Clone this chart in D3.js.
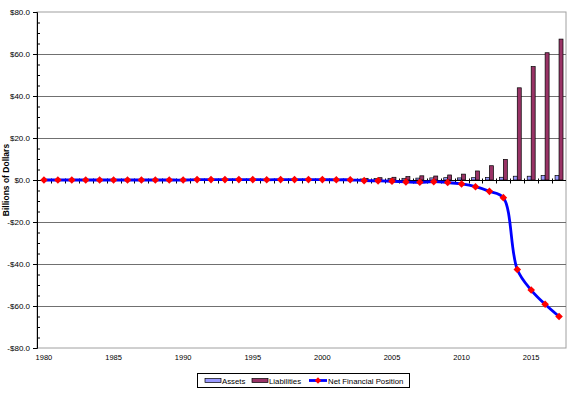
<!DOCTYPE html>
<html>
<head>
<meta charset="utf-8">
<script src="https://cdnjs.cloudflare.com/ajax/libs/d3/7.8.5/d3.min.js"></script>
<style>
  body { margin: 0; background: #fff; }
  text { font-family: Arial, "Liberation Sans", sans-serif; fill: #000; }
</style>
</head>
<body>
<svg id="chart" width="575" height="394"></svg>
<script>
// categories
const years = [1980, 1981, 1982, 1983, 1984, 1985, 1986, 1987, 1988, 1989,
  1990, 1991, 1992, 1993, 1994, 1995, 1996, 1997, 1998, 1999,
  2000, 2001, 2002, 2003, 2004, 2005, 2006, 2007, 2008, 2009,
  2010, 2011, 2012, 2013, 2014, 2015, 2016, 2017];

// billions of dollars
const assets = [0, 0, 0, 0, 0, 0, 0, 0, 0, 0,
  0, 0, 0, 0, 0, 0, 0, 0, 0, 0,
  0, 0, 0, 0.5, 0.7, 0.8, 0.8, 0.9, 1.0, 1.1,
  1.0, 1.1, 1.2, 1.3, 1.8, 1.8, 2.1, 2.1];
const liabilities = [0, 0, 0, 0, 0, 0, 0, 0, 0, 0,
  0, 0, 0, 0, 0, 0, 0, 0, 0, 0,
  0, 0, 0, 0.8, 1.1, 1.3, 1.6, 2.0, 1.9, 2.4,
  2.8, 4.3, 6.8, 9.8, 43.9, 54.0, 60.6, 67.1];
const netPosition = [0, 0, 0, 0, 0, 0, 0, 0, 0, 0,
  0, 0.2, 0.2, 0.2, 0.2, 0.2, 0.1, 0.2, 0.2, 0.2,
  0.2, 0.1, 0.1, -0.3, -0.4, -0.6, -0.9, -1.1, -0.8, -1.2,
  -1.9, -3.2, -5.4, -8.4, -42.6, -52.4, -59.2, -65.0];

const yTicks = [80, 60, 40, 20, 0, -20, -40, -60, -80];
const yMinorTicks = d3.range(-80, 81, 5).filter(d => d % 20 !== 0);
const xLabels = [1980, 1985, 1990, 1995, 2000, 2005, 2010, 2015];
const legendLabels = ['Assets', 'Liabilities', 'Net Financial Position'];

const svg = d3.select('#chart');
const plotLeft = 37, plotRight = 566, plotTop = 12, plotBottom = 348;

const x = d3.scaleBand().domain(years).range([plotLeft, plotRight]);
const y = d3.scaleLinear().domain([-80, 80]).range([plotBottom, plotTop]);
const cx = d => x(d) + x.bandwidth() / 2;
const barW = x.step() / 3.5;

// plot border and gridlines
svg.append('rect')
  .attr('x', plotLeft).attr('y', plotTop)
  .attr('width', plotRight - plotLeft).attr('height', plotBottom - plotTop)
  .attr('fill', 'none').attr('stroke', '#a0a0a0').attr('stroke-width', 1);

svg.append('g')
  .selectAll('line')
  .data(yTicks.filter(d => d !== 0 && Math.abs(d) !== 80))
  .join('line')
  .attr('x1', plotLeft).attr('x2', plotRight)
  .attr('y1', d => Math.round(y(d)) + 0.5).attr('y2', d => Math.round(y(d)) + 0.5)
  .attr('stroke', '#707070').attr('stroke-width', 1);

// bars
const bars = svg.append('g');
bars.selectAll('rect.assets')
  .data(years.map((yr, i) => ({ yr, v: assets[i] })).filter(d => d.v > 0))
  .join('rect')
  .attr('class', 'assets')
  .attr('x', d => cx(d.yr) - barW)
  .attr('y', d => y(d.v))
  .attr('width', barW)
  .attr('height', d => y(0) - y(d.v))
  .attr('fill', '#9999ff').attr('stroke', '#000').attr('stroke-width', 0.7);

bars.selectAll('rect.liab')
  .data(years.map((yr, i) => ({ yr, v: liabilities[i] })).filter(d => d.v > 0))
  .join('rect')
  .attr('class', 'liab')
  .attr('x', d => cx(d.yr))
  .attr('y', d => y(d.v))
  .attr('width', barW)
  .attr('height', d => y(0) - y(d.v))
  .attr('fill', '#993366').attr('stroke', '#000').attr('stroke-width', 0.7);

// y axis
const fmt = d => (d < 0 ? '-' : '') + '$' + Math.abs(d).toFixed(1);
const yAxis = svg.append('g')
  .attr('transform', `translate(${plotLeft},0)`)
  .call(d3.axisLeft(y).tickValues(yTicks).tickSize(4).tickPadding(3).tickFormat(fmt));
yAxis.select('.domain').attr('stroke', '#000');
yAxis.selectAll('text').style('font-size', '8px');

svg.append('g')
  .attr('transform', `translate(${plotLeft},0)`)
  .call(d3.axisRight(y).tickValues(yMinorTicks).tickSize(3).tickFormat(''))
  .select('.domain').remove();

svg.append('text')
  .attr('transform', `translate(9,${y(0)}) rotate(-90)`)
  .attr('text-anchor', 'middle')
  .style('font-size', '8.5px')
  .style('font-weight', 'bold')
  .text('Billions of Dollars');

// x axis at zero
const x0 = Math.round(y(0)) + 0.5;
svg.append('line')
  .attr('x1', plotLeft).attr('x2', plotRight)
  .attr('y1', x0).attr('y2', x0)
  .attr('stroke', '#000');

svg.append('g')
  .selectAll('line')
  .data(years.slice(1))
  .join('line')
  .attr('x1', d => Math.round(x(d)) + 0.5).attr('x2', d => Math.round(x(d)) + 0.5)
  .attr('y1', x0 - 2).attr('y2', x0 + 3)
  .attr('stroke', '#000');

svg.append('g')
  .selectAll('text')
  .data(xLabels)
  .join('text')
  .attr('x', d => cx(d))
  .attr('y', 359.5)
  .attr('text-anchor', 'middle')
  .style('font-size', '7.5px')
  .text(d => d);

// net financial position line
const line = d3.line()
  .x((d, i) => cx(years[i]))
  .y(d => y(d))
  .curve(d3.curveCatmullRom.alpha(0.5));

svg.append('path')
  .datum(netPosition)
  .attr('d', line)
  .attr('fill', 'none')
  .attr('stroke', '#0000ff')
  .attr('stroke-width', 2.8);

const diamond = r => `M0,${-r}L${r},0L0,${r}L${-r},0Z`;
svg.append('g')
  .selectAll('path')
  .data(netPosition)
  .join('path')
  .attr('transform', (d, i) => `translate(${cx(years[i])},${y(d)})`)
  .attr('d', diamond(3.8))
  .attr('fill', '#ff0000');

// legend
const lg = svg.append('g');
lg.append('rect')
  .attr('x', 197.5).attr('y', 373.5)
  .attr('width', 212).attr('height', 14)
  .attr('fill', '#fff').attr('stroke', '#000');

const swatchX = [205, 252, 309];
const textX = [222, 269, 328];
lg.append('rect').attr('x', swatchX[0]).attr('y', 378.5).attr('width', 16).attr('height', 4)
  .attr('fill', '#9999ff').attr('stroke', '#000').attr('stroke-width', 0.7);
lg.append('rect').attr('x', swatchX[1]).attr('y', 378.5).attr('width', 16).attr('height', 4)
  .attr('fill', '#993366').attr('stroke', '#000').attr('stroke-width', 0.7);
lg.append('line').attr('x1', swatchX[2]).attr('x2', swatchX[2] + 18)
  .attr('y1', 380.5).attr('y2', 380.5)
  .attr('stroke', '#0000ff').attr('stroke-width', 2.8);
lg.append('path').attr('transform', `translate(${swatchX[2] + 9},380.5)`)
  .attr('d', diamond(3.2)).attr('fill', '#ff0000');

lg.selectAll('text')
  .data(legendLabels)
  .join('text')
  .attr('x', (d, i) => textX[i])
  .attr('y', 383.5)
  .style('font-size', '7.8px')
  .text(d => d);
</script>
</body>
</html>
